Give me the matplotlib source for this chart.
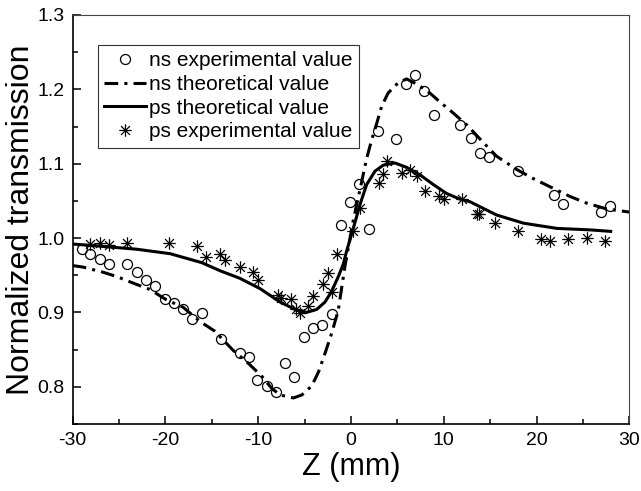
import matplotlib
matplotlib.use("Agg")
import matplotlib.pyplot as plt
from matplotlib.path import Path
from matplotlib.ticker import MultipleLocator

plt.rcParams['font.family'] = ['Liberation Sans', 'DejaVu Sans']
plt.rcParams['axes.unicode_minus'] = False

# ns experimental (open circles)
ns_exp_z = [-29.0, -28.1, -27.1, -26.1, -24.1, -23.1, -22.1, -21.1, -20.1, -19.1,
            -18.1, -17.1, -16.1, -14.0, -12.0, -11.0, -10.1, -9.1, -8.1, -7.1,
            -6.1, -5.1, -4.1, -3.1, -2.05, -1.1, -0.1, 0.9, 1.9, 2.9,
            4.9, 5.9, 6.9, 7.9, 8.9, 11.8, 12.9, 13.9, 14.9, 18.0,
            21.9, 22.9, 27.0, 27.9]
ns_exp_t = [0.985, 0.979, 0.972, 0.965, 0.965, 0.955, 0.944, 0.936, 0.918, 0.913,
            0.904, 0.891, 0.899, 0.864, 0.846, 0.840, 0.809, 0.801, 0.793, 0.832,
            0.813, 0.867, 0.879, 0.883, 0.898, 1.018, 1.048, 1.073, 1.012, 1.144,
            1.133, 1.207, 1.219, 1.198, 1.165, 1.152, 1.135, 1.115, 1.109, 1.090,
            1.058, 1.046, 1.035, 1.043]

# ns theoretical (dash-dot)
ns_th_z = [-30, -28.9, -26.7, -25.2, -23.6, -21.7, -19.9, -18.1, -16.3, -14.7,
           -12.7, -11.1, -9.6, -8.55, -7.65, -6.2, -5.3, -4.24, -3.5, -2.8,
           -2.08, -1.37, -0.65, 0.25, 0.97, 1.69, 2.23, 2.77, 3.3, 4.0,
           5.1, 6.0, 7.25, 8.5, 9.6, 10.85, 12.5, 14.3, 15.7, 17.9,
           19.65, 21.45, 23.6, 25.4, 27.6, 30]
ns_th_t = [0.963, 0.961, 0.954, 0.948, 0.940, 0.931, 0.917, 0.907, 0.888, 0.875,
           0.849, 0.832, 0.814, 0.798, 0.789, 0.785, 0.789, 0.801, 0.820, 0.845,
           0.872, 0.903, 0.962, 1.024, 1.065, 1.107, 1.132, 1.154, 1.177, 1.195,
           1.209, 1.214, 1.206, 1.195, 1.183, 1.170, 1.152, 1.128, 1.110, 1.092,
           1.080, 1.069, 1.056, 1.047, 1.039, 1.035]

# ps theoretical (solid)
ps_th_z = [-30, -26, -23.1, -19.5, -16.1, -14.1, -12.0, -9.8, -7.65, -5.85,
           -4.8, -3.7, -2.8, -2.1, -1.37, -0.83, -0.46, 0.25, 0.97, 1.69,
           2.59, 3.48, 4.74, 6.0, 7.44, 8.87, 10.3, 11.6, 12.8, 15.7,
           18.6, 22.2, 25.8, 28.0]
ps_th_t = [0.992, 0.988, 0.985, 0.979, 0.967, 0.956, 0.946, 0.932, 0.914, 0.903,
           0.900, 0.904, 0.914, 0.928, 0.948, 0.965, 0.983, 1.013, 1.045, 1.072,
           1.090, 1.098, 1.101, 1.095, 1.085, 1.072, 1.060, 1.053, 1.049, 1.031,
           1.020, 1.013, 1.011, 1.009]

# ps experimental (asterisks)
ps_exp_z = [-28.1, -27.05, -26.05, -24.1, -19.6, -16.6, -15.6, -14.1, -13.6, -12.0,
            -10.6, -10.0, -7.9, -7.5, -6.5, -5.9, -5.5, -4.6, -4.05, -3.05,
            -2.5, -2.0, -1.55, 0.2, 0.97, 3.03, 3.4, 3.9, 5.5, 6.4,
            7.1, 8.0, 9.5, 10.0, 12.0, 13.6, 13.8, 15.5, 18.0, 20.5,
            21.5, 23.4, 25.4, 27.4]
ps_exp_t = [0.992, 0.994, 0.991, 0.994, 0.994, 0.989, 0.974, 0.978, 0.971, 0.961,
            0.955, 0.944, 0.924, 0.919, 0.918, 0.904, 0.899, 0.908, 0.922, 0.938,
            0.953, 0.927, 0.979, 1.009, 1.040, 1.074, 1.086, 1.103, 1.087, 1.092,
            1.083, 1.063, 1.056, 1.052, 1.052, 1.033, 1.032, 1.020, 1.010, 0.999,
            0.996, 0.999, 1.000, 0.996]

labels = ["ns experimental value", "ns theoretical value",
          "ps theoretical value", "ps experimental value"]

# 8-arm asterisk marker
d = 0.7071
star = Path([(0, -1), (0, 1), (-1, 0), (1, 0), (-d, -d), (d, d), (-d, d), (d, -d)],
            [Path.MOVETO, Path.LINETO] * 4)

fig = plt.figure(figsize=(6.41, 4.91), dpi=100)
ax = fig.add_axes([0.1134, 0.1365, 0.8683, 0.833])

h1, = ax.plot(ns_exp_z, ns_exp_t, linestyle='none', marker='o', ms=7.2,
              mfc='none', mec='black', mew=0.9, label=labels[0])
h2, = ax.plot(ns_th_z, ns_th_t, color='black', lw=2.2,
              linestyle=(0, (4.5, 2.0, 1.0, 2.0)), label=labels[1])
h3, = ax.plot(ps_th_z, ps_th_t, color='black', lw=2.2, label=labels[2])
h4, = ax.plot(ps_exp_z, ps_exp_t, linestyle='none', marker=star, ms=9,
              mfc='none', mec='black', mew=0.9, label=labels[3])

ax.set_xlim(-30, 30)
ax.set_ylim(0.75, 1.3)
ax.xaxis.set_major_locator(MultipleLocator(10))
ax.xaxis.set_minor_locator(MultipleLocator(5))
ax.yaxis.set_minor_locator(MultipleLocator(0.05))
ax.set_yticks([0.8, 0.9, 1.0, 1.1, 1.2, 1.3])
ax.set_yticklabels(["0.8", "0.9", "1.0", "1.1", "1.2", "1.3"])
ax.tick_params(which='both', direction='in', top=False, right=False,
               labelsize=14, width=1.1, pad=6)
ax.tick_params(which='major', length=6)
ax.tick_params(which='minor', length=3.5)

for s in ['left', 'bottom']:
    ax.spines[s].set_linewidth(1.2)
for s in ['top', 'right']:
    ax.spines[s].set_linewidth(0.8)
    ax.spines[s].set_color('#444444')

ax.set_xlabel("Z (mm)", fontsize=22, labelpad=2)
ax.set_ylabel("Normalized transmission", fontsize=23, labelpad=1)

leg = ax.legend(handles=[h1, h2, h3, h4], loc='upper left',
                bbox_to_anchor=(0.0446, 0.927), fontsize=15, frameon=True,
                fancybox=False, shadow=False, borderaxespad=0, borderpad=0.32,
                labelspacing=0.22, handlelength=2.0, handletextpad=0.15,
                numpoints=1, framealpha=1)
leg.get_frame().set_edgecolor('#333333')
leg.get_frame().set_linewidth(0.8)

fig.savefig("out.png", dpi=100)
